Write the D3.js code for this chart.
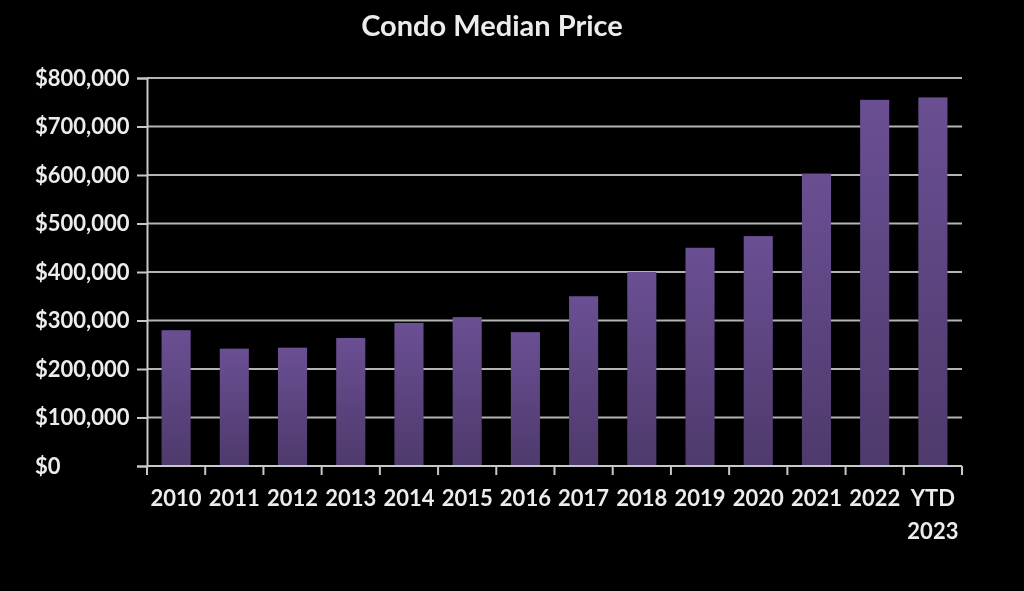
<!DOCTYPE html>
<html>
<head>
<meta charset="utf-8">
<script src="https://cdn.jsdelivr.net/npm/d3@7"></script>
<style>
  body { margin: 0; background: #000; }
  svg { display: block; }
  text { font-family: Lato, "Open Sans", sans-serif; fill: #ececec; }
</style>
</head>
<body>
<div id="chart"></div>
<script>
// values
const years = ["2010","2011","2012","2013","2014","2015","2016","2017","2018","2019","2020","2021","2022","YTD 2023"];
const prices = [280000,242000,244000,264000,295000,307000,276000,350000,400000,450000,474000,603000,755000,760000];
const yTicks = [0,100000,200000,300000,400000,500000,600000,700000,800000];

const W = 1024, H = 591;
const margin = {top: 78, right: 62, bottom: 125, left: 147};

const svg = d3.select("#chart").append("svg").attr("width", W).attr("height", H);

const defs = svg.append("defs");
let grad = defs.append("linearGradient").attr("id","barGrad")
  .attr("x1",0).attr("y1",0).attr("x2",0).attr("y2",1);
grad.append("stop").attr("offset","0%").attr("stop-color","#6a4f93");
grad.append("stop").attr("offset","100%").attr("stop-color","#4e3a6c");

let glow = defs.append("filter").attr("id","soft");
glow.append("feGaussianBlur").attr("stdDeviation",0.5);

const x = d3.scaleBand().domain(years).range([margin.left, W - margin.right]).paddingInner(0.5).paddingOuter(0.25);
const y = d3.scaleLinear().domain([0, 800000]).range([H - margin.bottom, margin.top]);

// gridlines
svg.append("g").selectAll("line")
  .data(yTicks.slice(1))
  .enter().append("line")
  .attr("x1", margin.left).attr("x2", W - margin.right)
  .attr("y1", d => y(d)).attr("y2", d => y(d))
  .attr("stroke", "#b4b4b4").attr("stroke-width", 2);

// bars
svg.append("g").selectAll("rect")
  .data(prices)
  .enter().append("rect")
  .attr("x", (d,i) => x(years[i]))
  .attr("y", d => y(d))
  .attr("width", x.bandwidth())
  .attr("height", d => y(0) - y(d))
  .attr("fill", "url(#barGrad)");

// y axis (labels are left aligned in the original)
const yAxis = d3.axisLeft(y).tickValues(yTicks).tickSize(10).tickPadding(2)
  .tickFormat(d => "$" + d3.format(",")(d));
let gy = svg.append("g").attr("transform", "translate(" + margin.left + ",0)").call(yAxis);
gy.select(".domain").attr("stroke", "#c8c8c8").attr("stroke-width", 2);
gy.selectAll(".tick line").attr("stroke", "#c8c8c8").attr("stroke-width", 2);
gy.selectAll("text")
  .attr("text-anchor", "start")
  .attr("x", 35 - margin.left)
  .attr("font-size", 22).attr("font-weight", 700).attr("fill", "#ececec").attr("filter","url(#soft)");

// x axis: ticks on band boundaries
const xEdges = d3.range(years.length + 1).map(i => margin.left + i * x.step());
let gx = svg.append("g");
gx.append("line")
  .attr("x1", margin.left).attr("x2", W - margin.right)
  .attr("y1", y(0)).attr("y2", y(0))
  .attr("stroke", "#c8c8c8").attr("stroke-width", 2);
gx.selectAll(".xt").data(xEdges).enter().append("line")
  .attr("x1", d => d).attr("x2", d => d)
  .attr("y1", y(0)).attr("y2", y(0) + 9)
  .attr("stroke", "#c8c8c8").attr("stroke-width", 2);

gx.selectAll(".lbl").data(years).enter().append("text")
  .attr("text-anchor", "middle")
  .attr("font-size", 22).attr("font-weight", 700)
  .attr("filter","url(#soft)")
  .each(function(d){
    let parts = d.split(" ");
    let t = d3.select(this);
    parts.forEach((p, j) => {
      t.append("tspan")
        .attr("x", x(d) + x.bandwidth()/2)
        .attr("y", y(0) + 40 + j * 33)
        .text(p);
    });
  });

// title
svg.append("text")
  .attr("x", 492).attr("y", 36)
  .attr("text-anchor", "middle")
  .attr("font-size", 29).attr("font-weight", 700)
  .attr("filter","url(#soft)")
  .text("Condo Median Price");
</script>
</body>
</html>
